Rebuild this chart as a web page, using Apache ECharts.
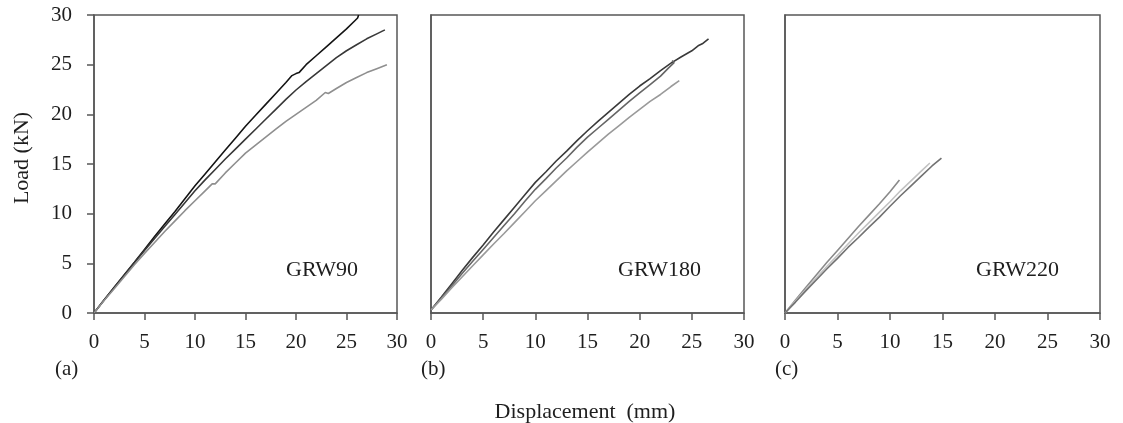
<!DOCTYPE html>
<html>
<head>
<meta charset="utf-8">
<script src="https://cdn.jsdelivr.net/npm/echarts@6/dist/echarts.min.js"></script>
<style>
  html, body { margin: 0; padding: 0; background: #ffffff; }
  #chart { width: 1123px; height: 423px; }
</style>
</head>
<body>
<div id="chart"></div>
<script>
// Load–displacement curves, three specimens per wall type: [displacement (mm), load (kN)]
const xTicks = [0, 5, 10, 15, 20, 25, 30];
const yTicks = [0, 5, 10, 15, 20, 25, 30];
const panelNames = ['GRW90', 'GRW180', 'GRW220'];
const panelTags = ['(a)', '(b)', '(c)'];

const grw90_1 = [[0,0],[1,1.3],[2,2.6],[3,3.85],[4,5.1],[5,6.4],[6,7.7],[7,8.95],[8,10.2],[9,11.5],[10,12.8],[11,14.0],[12,15.2],[13,16.4],[14,17.6],[15,18.8],[16,19.9],[17,21.0],[18,22.1],[19,23.2],[19.6,23.9],[20,24.1],[20.3,24.2],[21,25.0],[22,25.9],[23,26.8],[24,27.7],[25,28.6],[25.8,29.4],[26.1,29.7],[26.2,30.0]];
const grw90_2 = [[0,0],[1,1.3],[2,2.55],[3,3.8],[4,5.05],[5,6.3],[6,7.5],[7,8.7],[8,9.9],[9,11.1],[10,12.3],[11,13.4],[12,14.45],[13,15.5],[14,16.5],[15,17.5],[16,18.5],[17,19.5],[18,20.5],[19,21.5],[20,22.45],[21,23.3],[22,24.1],[23,24.9],[24,25.7],[25,26.4],[26,27.0],[27,27.6],[28,28.1],[28.8,28.5]];
const grw90_3 = [[0,0],[1,1.25],[2,2.45],[3,3.65],[4,4.85],[5,6.0],[6,7.1],[7,8.2],[8,9.25],[9,10.3],[10,11.3],[11,12.3],[11.7,13.0],[12,13.0],[13,14.1],[14,15.1],[15,16.1],[16,16.9],[17,17.7],[18,18.5],[19,19.3],[20,20.0],[21,20.7],[22,21.4],[22.9,22.2],[23.2,22.1],[24,22.6],[25,23.2],[26,23.7],[27,24.2],[28,24.6],[29,25.0]];

const grw180_1 = [[0,0.3],[1,1.6],[2,2.95],[3,4.3],[4,5.6],[5,6.85],[6,8.15],[7,9.4],[8,10.65],[9,11.9],[10,13.15],[11,14.2],[12,15.3],[13,16.3],[14,17.35],[15,18.35],[16,19.3],[17,20.2],[18,21.1],[19,22.0],[20,22.85],[21,23.6],[22,24.4],[23,25.15],[24,25.8],[25,26.4],[25.6,26.9],[26,27.1],[26.6,27.6]];
const grw180_2 = [[0,0.3],[1,1.5],[2,2.75],[3,4.0],[4,5.2],[5,6.4],[6,7.6],[7,8.8],[8,10.0],[9,11.25],[10,12.45],[11,13.5],[12,14.6],[13,15.6],[14,16.7],[15,17.7],[16,18.6],[17,19.5],[18,20.4],[19,21.3],[20,22.15],[21,23.0],[22,23.85],[22.8,24.7],[23.3,25.2],[23.1,25.4]];
const grw180_3 = [[0,0.3],[1,1.4],[2,2.55],[3,3.65],[4,4.75],[5,5.85],[6,6.95],[7,8.0],[8,9.1],[9,10.2],[10,11.3],[11,12.3],[12,13.3],[13,14.3],[14,15.25],[15,16.2],[16,17.1],[17,18.0],[18,18.85],[19,19.7],[20,20.5],[21,21.3],[22,22.0],[23,22.8],[23.8,23.4]];

const grw220_1 = [[0,0],[1,1.3],[2,2.6],[3,3.85],[4,5.1],[5,6.3],[6,7.5],[7,8.7],[8,9.85],[9,11.0],[10,12.2],[10.9,13.4]];
const grw220_2 = [[0,0],[1,1.2],[2,2.4],[3,3.55],[4,4.7],[5,5.8],[6,6.95],[7,8.05],[8,9.1],[9,10.15],[10,11.2],[11,12.3],[12,13.3],[13,14.3],[13.8,15.1]];
const grw220_3 = [[0,0],[1,1.1],[2,2.25],[3,3.35],[4,4.45],[5,5.5],[6,6.6],[7,7.6],[8,8.65],[9,9.65],[10,10.75],[11,11.8],[12,12.8],[13,13.8],[14,14.8],[14.9,15.6]];

const panelSeries = [
  [[grw90_1, '#141414'], [grw90_2, '#383838'], [grw90_3, '#8f8f8f']],
  [[grw180_1, '#3a3a3a'], [grw180_2, '#666666'], [grw180_3, '#9a9a9a']],
  [[grw220_1, '#8a8a8a'], [grw220_2, '#c2c2c2'], [grw220_3, '#727272']]
];

const FONT = '"Liberation Serif", "Times New Roman", serif';
const FRAME = '#575757';
const TEXT = '#1e1e1e';

const grids = [
  { left: 94, top: 15, width: 303, height: 298 },
  { left: 431, top: 15, width: 313, height: 298 },
  { left: 785, top: 15, width: 315, height: 298 }
].map(g => Object.assign({ show: true, borderColor: FRAME, borderWidth: 1.5, backgroundColor: 'transparent' }, g));

const xAxes = grids.map((g, i) => ({
  type: 'value', gridIndex: i,
  min: xTicks[0], max: xTicks[xTicks.length - 1], interval: xTicks[1] - xTicks[0],
  axisLine: { show: true, onZero: false, lineStyle: { color: FRAME, width: 1.5 } },
  axisTick: { show: true, inside: false, length: 7, lineStyle: { color: FRAME, width: 1.5 } },
  axisLabel: { show: true, margin: 19, color: TEXT, fontFamily: FONT, fontSize: 21 },
  splitLine: { show: false }
}));

const yAxes = grids.map((g, i) => ({
  type: 'value', gridIndex: i,
  min: yTicks[0], max: yTicks[yTicks.length - 1], interval: yTicks[1] - yTicks[0],
  axisLine: { show: true, onZero: false, lineStyle: { color: FRAME, width: 1.5 } },
  axisTick: { show: i === 0, inside: false, length: 7, lineStyle: { color: FRAME, width: 1.5 } },
  axisLabel: { show: i === 0, margin: 22, color: TEXT, fontFamily: FONT, fontSize: 21 },
  splitLine: { show: false }
}));

const series = [];
panelSeries.forEach((set, i) => {
  set.forEach(([data, color]) => {
    series.push({
      type: 'line', xAxisIndex: i, yAxisIndex: i, data: data,
      showSymbol: false, symbol: 'none', smooth: false,
      lineStyle: { color: color, width: 1.6 }, emphasis: { disabled: true },
      silent: true, animation: false
    });
  });
});

const nameX = [286, 618, 976];
const tagX = [55, 421, 775];
const graphic = [];
panelNames.forEach((t, i) => {
  graphic.push({ type: 'text', x: nameX[i], y: 270,
    style: { text: t, fill: TEXT, font: '22px ' + FONT, align: 'left', verticalAlign: 'middle' } });
  graphic.push({ type: 'text', x: tagX[i], y: 369,
    style: { text: panelTags[i], fill: TEXT, font: '21px ' + FONT, align: 'left', verticalAlign: 'middle' } });
});
graphic.push({ type: 'text', x: 585, y: 412,
  style: { text: 'Displacement  (mm)', fill: TEXT, font: '22px ' + FONT, align: 'center', verticalAlign: 'middle' } });
graphic.push({ type: 'text', x: 22, y: 158, rotation: Math.PI / 2,
  style: { text: 'Load (kN)', fill: TEXT, font: '22px ' + FONT, align: 'center', verticalAlign: 'middle' } });

const chart = echarts.init(document.getElementById('chart'), null, { renderer: 'canvas' });
chart.setOption({
  animation: false,
  backgroundColor: '#ffffff',
  grid: grids, xAxis: xAxes, yAxis: yAxes, series: series, graphic: graphic
});
</script>
</body>
</html>
